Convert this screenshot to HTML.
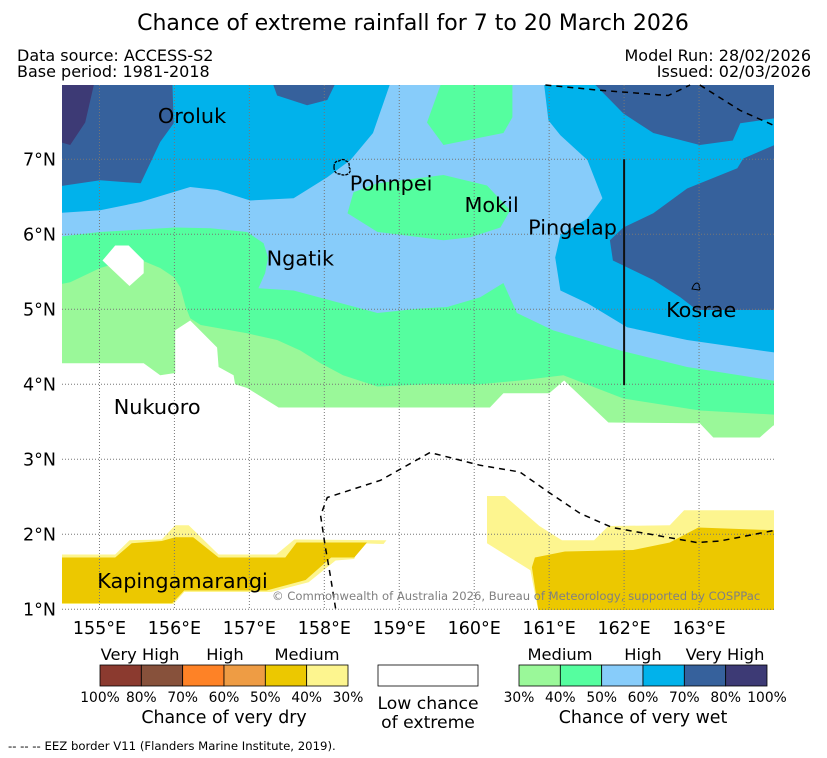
<!DOCTYPE html>
<html><head><meta charset="utf-8">
<style>
html,body{margin:0;padding:0;background:#fff;}
svg{display:block;font-family:"DejaVu Sans","Liberation Sans",sans-serif;}
</style></head>
<body>
<svg id="chart" width="827" height="758" viewBox="0 0 827 758" xmlns="http://www.w3.org/2000/svg">
<text x="413" y="30" font-size="22" text-anchor="middle">Chance of extreme rainfall for 7 to 20 March 2026</text>
<text x="17" y="61" font-size="16">Data source: ACCESS-S2</text>
<text x="17" y="77" font-size="16">Base period: 1981-2018</text>
<text x="811" y="61" font-size="16" text-anchor="end">Model Run: 28/02/2026</text>
<text x="811" y="77" font-size="16" text-anchor="end">Issued: 02/03/2026</text>
<defs><clipPath id="mapclip"><rect x="62" y="85" width="712" height="525"/></clipPath></defs>
<g id="map" clip-path="url(#mapclip)"></g>
<g id="overlay"></g>
<g id="legend"></g>
<text x="8" y="750" font-size="11.7">--  --  -- EEZ border V11 (Flanders Marine Institute, 2019).</text>
</svg>
<script>
const lonTicks = [155,156,157,158,159,160,161,162,163];
const latTicks = [1,2,3,4,5,6,7];
const lonLabels = ["155°E","156°E","157°E","158°E","159°E","160°E","161°E","162°E","163°E"];
const latLabels = ["1°N","2°N","3°N","4°N","5°N","6°N","7°N"];
const layerNames = ["wet-30-40","wet-40-50","wet-50-60","wet-50-60-blob","wet-40-50-blob-pohnpei","wet-40-50-blob-north","wet-60-70-west","wet-60-70-east","wet-70-80-west","wet-70-80-top","wet-70-80-northeast","wet-70-80-east","wet-80-100-west","low-chance-hole","dry-30-40-west","dry-40-50-west","dry-30-40-east","dry-40-50-east"];
const layerColors = ["#9af899","#55fe9f","#87ccfa","#87ccfa","#55fe9f","#55fe9f","#01b2eb","#01b2eb","#36619c","#36619c","#36619c","#36619c","#3d3a75","#ffffff","#fdf58f","#ecc800","#fdf58f","#ecc800"];
const layerPolys = [
 [[154.4,8.1],[164.1,8.1],[164.1,3.45],[163.99,3.45],[163.81,3.29],[163.19,3.29],[163.01,3.48],[161.79,3.49],[161.2,4.05],[161.0,3.88],[160.39,3.88],[160.21,3.69],[157.39,3.69],[156.97,3.95],[156.81,4.0],[156.79,4.12],[156.59,4.23],[156.57,4.49],[156.21,4.85],[156.01,4.72],[156.01,4.15],[155.81,4.12],[155.59,4.28],[154.4,4.28]],
 [[154.4,8.1],[164.1,8.1],[164.1,3.59],[163.01,3.65],[161.99,3.81],[161.19,4.12],[160.61,4.05],[160.08,4.0],[159.37,4.0],[158.71,3.97],[158.25,4.12],[157.95,4.28],[157.68,4.45],[157.37,4.59],[156.97,4.68],[156.35,4.79],[156.21,4.88],[156.15,5.03],[156.08,5.29],[155.99,5.43],[155.81,5.55],[155.57,5.65],[155.28,5.63],[155.01,5.55],[154.61,5.36],[154.4,5.32]],
 [[154.4,8.1],[164.1,8.1],[164.1,4.03],[162.84,4.23],[161.95,4.45],[161.05,4.72],[160.57,4.95],[160.39,5.35],[160.08,5.16],[159.64,5.03],[159.28,5.01],[158.71,4.95],[157.59,5.25],[157.12,5.28],[157.21,5.48],[157.25,5.69],[157.19,5.88],[156.97,6.03],[156.48,6.08],[156.01,6.09],[155.01,6.03],[154.4,5.96]],
 [[154.4,6.0],[154.41,6.0],[154.41,6.01]],
 [[158.31,6.28],[158.39,6.56],[158.71,6.68],[159.59,6.79],[160.17,6.65],[160.48,6.32],[160.35,6.09],[159.95,5.96],[159.59,5.92],[159.28,5.96],[158.71,6.03]],
 [[159.59,8.1],[159.37,7.49],[159.59,7.19],[160.39,7.35],[160.51,7.56],[160.51,8.1]],
 [[154.4,8.1],[158.91,8.1],[158.65,7.35],[158.35,6.99],[158.04,6.76],[157.59,6.48],[157.01,6.45],[156.57,6.59],[156.21,6.63],[155.55,6.43],[155.01,6.32],[154.4,6.28]],
 [[160.92,8.1],[160.99,7.52],[161.15,7.32],[161.51,6.99],[161.71,6.48],[161.51,6.21],[161.15,5.99],[161.08,5.69],[161.15,5.25],[161.51,5.08],[162.04,4.76],[162.84,4.59],[164.1,4.41],[164.1,8.1]],
 [[154.4,8.1],[155.97,8.1],[155.99,7.48],[155.81,7.23],[155.55,6.68],[155.01,6.72],[154.4,6.63]],
 [[157.28,8.1],[157.37,7.85],[157.77,7.72],[158.04,7.79],[158.19,8.1]],
 [[161.51,8.1],[161.99,7.61],[162.39,7.35],[163.01,7.19],[163.45,7.25],[163.55,7.48],[164.1,7.56],[164.1,8.1]],
 [[164.1,7.23],[163.59,7.01],[163.51,6.88],[162.84,6.61],[162.39,6.28],[161.99,6.09],[161.81,5.92],[161.85,5.65],[162.39,5.39],[162.75,5.16],[162.97,4.99],[164.1,4.99]],
 [[154.4,8.1],[154.95,8.1],[154.81,7.49],[154.61,7.19],[154.4,7.25]],
 [[155.04,5.65],[155.21,5.85],[155.39,5.85],[155.59,5.65],[155.59,5.48],[155.40,5.31]],
 [[154.4,1.73],[155.21,1.73],[155.40,1.92],[155.83,1.93],[156.01,2.12],[156.19,2.12],[156.59,1.73],[157.36,1.73],[157.60,1.93],[158.83,1.92],[158.79,1.87],[158.45,1.88],[158.40,1.67],[158.15,1.65],[157.79,1.36],[157.29,1.23],[156.13,1.23],[155.99,1.07],[154.4,1.07]],
 [[154.4,1.69],[155.21,1.69],[155.43,1.88],[155.83,1.91],[156.01,1.96],[156.25,1.96],[156.59,1.69],[157.48,1.69],[157.63,1.89],[158.57,1.89],[158.40,1.69],[158.09,1.69],[157.75,1.39],[157.23,1.25],[156.13,1.25],[155.97,1.08],[154.4,1.08]],
 [[160.17,2.51],[160.41,2.51],[160.87,2.11],[161.17,1.92],[161.60,1.92],[161.79,2.11],[162.61,2.12],[162.80,2.32],[164.1,2.32],[164.1,0.9],[160.87,0.9],[160.75,1.52],[160.17,1.88]],
 [[160.77,1.56],[160.81,1.69],[161.21,1.77],[162.12,1.79],[162.61,1.89],[162.99,2.09],[164.1,2.05],[164.1,0.9],[160.87,0.9]]
];
const eezLines = [
 [[158.15,1.01],[158.08,1.45],[158.01,1.85],[157.95,2.25],[158.04,2.49],[158.75,2.72],[159.41,3.09],[160.08,2.92],[160.61,2.83],[160.95,2.59],[161.41,2.28],[161.84,2.09],[162.97,1.89],[163.28,1.91],[164.0,2.05]],
 [[160.95,7.99],[161.68,7.92],[162.59,7.85],[162.88,7.99]],
 [[163.01,7.99],[163.55,7.65],[164.0,7.45]]
];
const placeNames = ["Oroluk","Pohnpei","Mokil","Pingelap","Ngatik","Kosrae","Nukuoro","Kapingamarangi"];
const placeLon = [155.78,158.34,159.87,160.72,157.23,162.56,155.19,154.97];
const placeLat = [7.58,6.68,6.39,6.09,5.68,4.99,3.7,1.38];

const NS="http://www.w3.org/2000/svg";
const x0=62,x1=774,y0=85,y1=610,lonMin=154.5,lonMax=164.0,latMin=0.99,latMax=7.99;
function xs(lon){return x0+(lon-lonMin)/(lonMax-lonMin)*(x1-x0);}
function ys(lat){return y1-(lat-latMin)/(latMax-latMin)*(y1-y0);}
function mk(tag,attrs,parent){const e=document.createElementNS(NS,tag);for(const k in attrs)e.setAttribute(k,attrs[k]);parent.appendChild(e);return e;}
function pts(p){return p.map(q=>xs(q[0]).toFixed(1)+","+ys(q[1]).toFixed(1)).join(" ");}
const map=document.getElementById("map"),ov=document.getElementById("overlay"),lg=document.getElementById("legend");

layerPolys.forEach((p,i)=>{
 const e=mk("polygon",{points:pts(p),fill:layerColors[i]},map);
 
 
});
lonTicks.forEach((v,i)=>{
 const l=mk("line",{x1:xs(v),x2:xs(v),y1:y0,y2:y1,stroke:"#777","stroke-width":1,"stroke-dasharray":"1,2"},ov);
 
 
 const t=mk("text",{x:xs(v),y:634,"font-size":17.5,"text-anchor":"middle"},ov);t.textContent=lonLabels[i];
 
 
});
latTicks.forEach((v,i)=>{
 const l=mk("line",{x1:x0,x2:x1,y1:ys(v),y2:ys(v),stroke:"#777","stroke-width":1,"stroke-dasharray":"1,2"},ov);
 
 
 const t=mk("text",{x:56,y:ys(v)+6,"font-size":17.5,"text-anchor":"end"},ov);t.textContent=latLabels[i];
 
 
});
eezLines.forEach(p=>{
 const e=mk("polyline",{points:pts(p),fill:"none",stroke:"#000","stroke-width":1.5,"stroke-dasharray":"6,5"},ov);
 
 
});
const vl=mk("line",{x1:xs(162),x2:xs(162),y1:ys(7),y2:ys(3.99),stroke:"#111","stroke-width":2},ov);


const pi=mk("path",{d:"M334,167 q0,-6 5,-6 q4,-3 7,0 q4,1 3,6 q3,4 -1,7 q-4,2 -8,0 q-6,0 -6,-7z",fill:"none",stroke:"#000","stroke-width":1.3,"stroke-dasharray":"3,1"},ov);


const ki=mk("path",{d:"M692,289 q2,-6 5,-6 q3,1 2,4 q2,2 0,3 z",fill:"none",stroke:"#000","stroke-width":1},ov);


placeNames.forEach((n,i)=>{
 const t=mk("text",{x:xs(placeLon[i]),y:ys(placeLat[i])+7,"font-size":20.8},ov);t.textContent=n;
 
 
});
const cp=mk("text",{x:272,y:600,"font-size":11.6,fill:"#808080"},ov);cp.textContent="© Commonwealth of Australia 2026, Bureau of Meteorology, supported by COSPPac";



const dryColors=["#8b3a2f","#87513b","#fe8226","#ee9c44","#ecc800","#fdf58f"];
const wetColors=["#9af899","#55fe9f","#87ccfa","#01b2eb","#36619c","#3d3a75"];
const dryTicks=["100%","80%","70%","60%","50%","40%","30%"];
const wetTicks=["30%","40%","50%","60%","70%","80%","100%"];
function bar(x,colors,ticks,cats,catX,title,name){
 const w=248/6;
 colors.forEach((c,i)=>{const r=mk("rect",{x:x+i*w,y:665,width:w,height:21,fill:c,stroke:"#000","stroke-width":0.8},lg);
  
  });
 ticks.forEach((t,i)=>{const e=mk("text",{x:x+i*w,y:702,"font-size":13.8,"text-anchor":"middle"},lg);e.textContent=t;
  
  });
 cats.forEach((t,i)=>{const e=mk("text",{x:x+catX[i],y:660,"font-size":16.3,"text-anchor":"middle"},lg);e.textContent=t;
  
  });
 const tt=mk("text",{x:x+124,y:723,"font-size":17.4,"text-anchor":"middle"},lg);tt.textContent=title;
 
 
}
bar(100,dryColors,dryTicks,["Very High","High","Medium"],[40,125,207],"Chance of very dry","dry-legend");
bar(519,wetColors,wetTicks,["Medium","High","Very High"],[41,124,206],"Chance of very wet","wet-legend");
const wb=mk("rect",{x:378,y:665,width:100,height:21,fill:"#fff",stroke:"#000","stroke-width":0.8},lg);


const l1=mk("text",{x:428,y:709,"font-size":17.2,"text-anchor":"middle"},lg);l1.textContent="Low chance";


const l2=mk("text",{x:428,y:728,"font-size":17.2,"text-anchor":"middle"},lg);l2.textContent="of extreme";


</script>
</body></html>
